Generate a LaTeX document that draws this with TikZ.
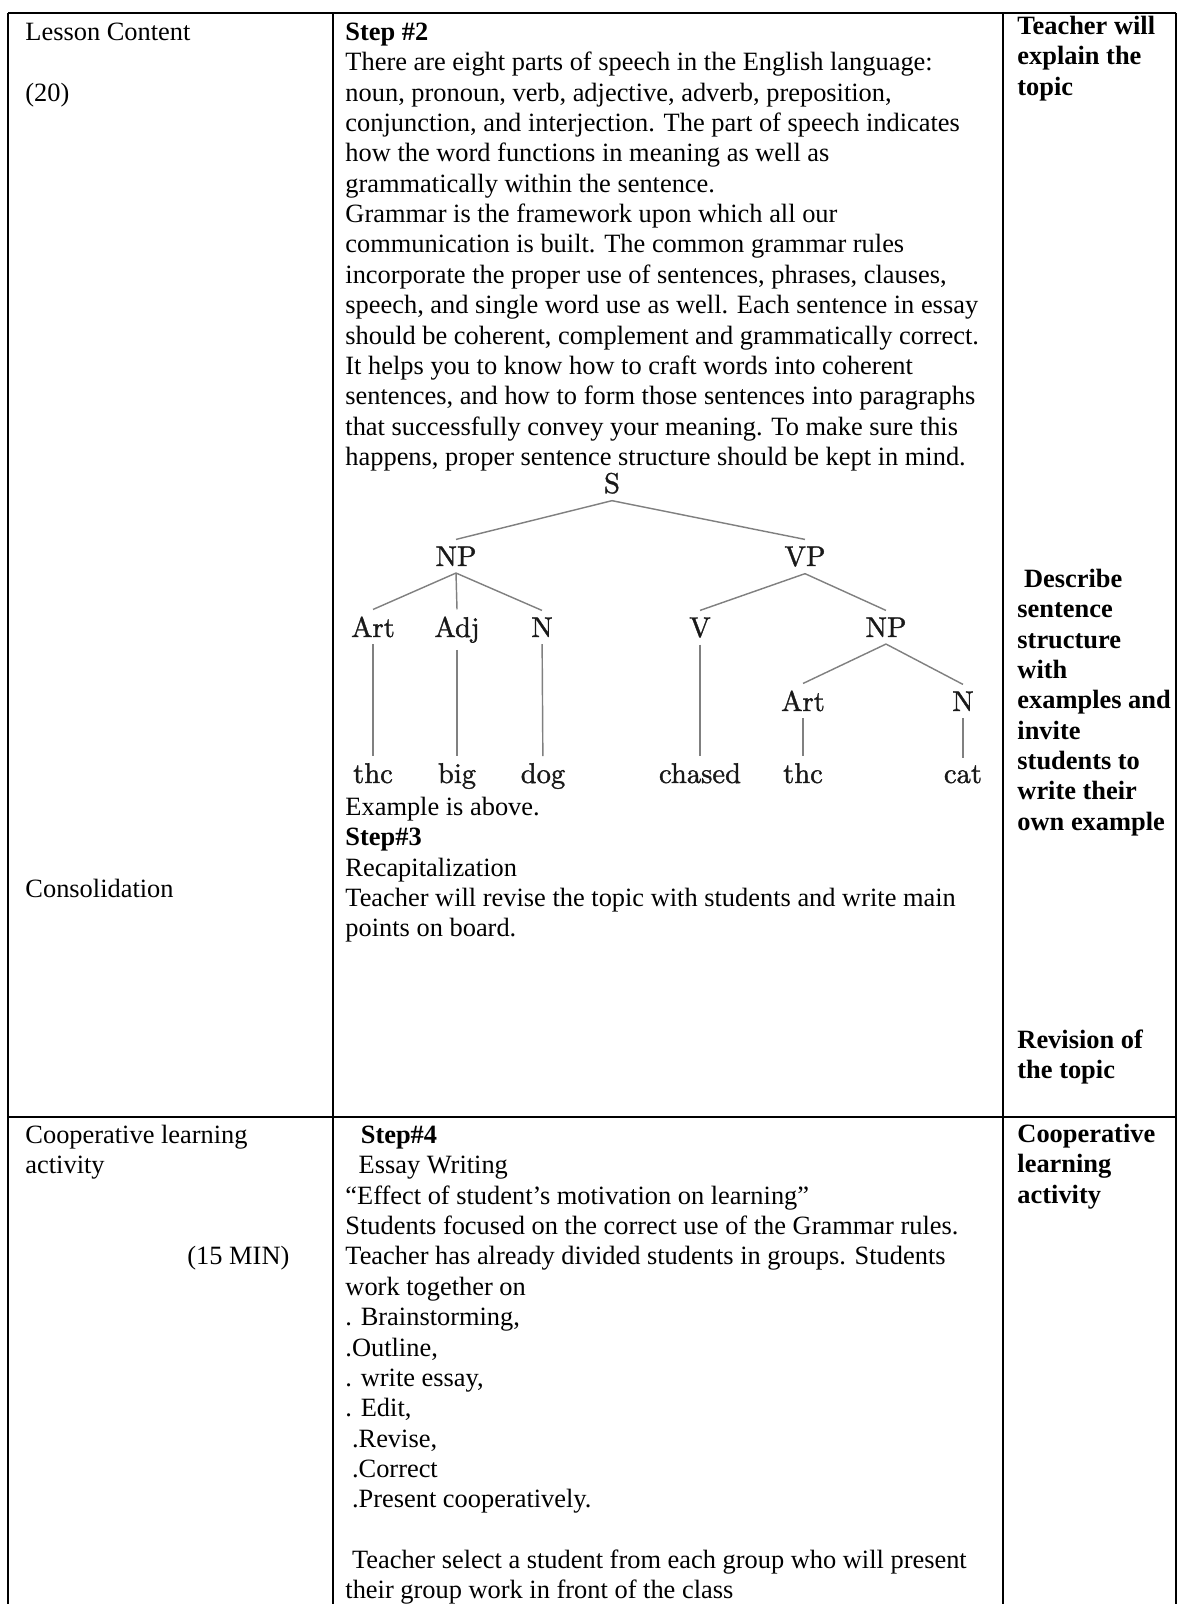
\documentclass[tikz,border=0pt]{standalone}
\usepackage{fontspec}
\newfontfamily\cellfont{Liberation Serif}
\newfontfamily\treefont{lmroman10-regular.otf}[FakeBold=1.2]
\begin{document}
\begin{tikzpicture}[x=0.4545pt,y=-0.4545pt,
  rule/.style={line width=0.8pt},
  cell/.style={anchor=north west,inner sep=0pt,align=left,yshift=9.66pt,
    font={\cellfont\fontsize{12}{13.8}\selectfont}},
  aside/.style={cell,font={\cellfont\bfseries\fontsize{12}{13.8}\selectfont}},
  word/.style={anchor=base,inner sep=3pt,text=black!90,font={\treefont\fontsize{13}{15}\selectfont}},
  branch/.style={draw=black!50,line width=0.65pt}]
\useasboundingbox (0,0) rectangle (1178,1604);
% table rules
\draw[rule] (8,13) -- (1176,13);
\draw[rule] (8,1117) -- (1176,1117);
\draw[rule] (8,13) -- (8,1604);
\draw[rule] (333,13) -- (333,1604);
\draw[rule] (1003,13) -- (1003,1604);
\draw[rule] (1176,13) -- (1176,1604);
% first column
\node[cell] (lesson) at (25,40) {\strut Lesson Content\\[13.8pt](20)};
\node[cell] (consol) at (25,897) {\strut Consolidation};
\node[cell] (coop) at (25,1143) {\strut Cooperative learning\\activity};
\node[cell] (mins) at (187,1264) {\strut (15 MIN)};
% second column
\node[cell] (step2) at (345,40) {\strut\textbf{Step \#2}\\
There are eight parts of speech in the English language:\\
noun, pronoun, verb, adjective, adverb, preposition,\\
conjunction, and interjection. The part of speech indicates\\
how the word functions in meaning as well as\\
grammatically within the sentence.\\
Grammar is the framework upon which all our\\
communication is built. The common grammar rules\\
incorporate the proper use of sentences, phrases, clauses,\\
speech, and single word use as well. Each sentence in essay\\
should be coherent, complement and grammatically correct.\\
It helps you to know how to craft words into coherent\\
sentences, and how to form those sentences into paragraphs\\
that successfully convey your meaning. To make sure this\\
happens, proper sentence structure should be kept in mind.};
% sentence tree
\node[word] (S) at (612,493) {S};
\node[word] (NPa) at (456,566) {NP};
\node[word] (VP) at (805,566) {VP};
\node[word] (Arta) at (373,637) {Art};
\node[word] (Adj) at (457,637) {Adj};
\node[word] (Na) at (542,637) {N};
\node[word] (V) at (700,637) {V};
\node[word] (NPb) at (886,637) {NP};
\node[word] (Artb) at (803,711) {Art};
\node[word] (Nb) at (963,711) {N};
\node[word] (thea) at (373,783) {thc};
\node[word] (big) at (457,783) {big};
\node[word] (dog) at (543,783) {dog};
\node[word] (chased) at (700,783) {chased};
\node[word] (theb) at (803,783) {thc};
\node[word] (cat) at (963,783) {cat};
\draw[branch] (S.south) -- (NPa.north);
\draw[branch] (S.south) -- (VP.north);
\draw[branch] (NPa.south) -- (Arta.north);
\draw[branch] (NPa.south) -- (Adj.north);
\draw[branch] (NPa.south) -- (Na.north);
\draw[branch] (VP.south) -- (V.north);
\draw[branch] (VP.south) -- (NPb.north);
\draw[branch] (NPb.south) -- (Artb.north);
\draw[branch] (NPb.south) -- (Nb.north);
\draw[branch] (Arta) -- (thea);
\draw[branch] (Adj) -- (big);
\draw[branch] (Na) -- (dog);
\draw[branch] (V) -- (chased);
\draw[branch] (Artb) -- (theb);
\draw[branch] (Nb) -- (cat);
\node[cell] (step3) at (345,815) {\strut Example is above.\\
\textbf{Step\#3}\\
Recapitalization\\
Teacher will revise the topic with students and write main\\
points on board.};
\node[cell] (step4) at (345,1143) {\strut\hspace*{7pt}\textbf{Step\#4}\\
\hspace*{6pt}Essay Writing\\
“Effect of student’s motivation on learning”\\
Students focused on the correct use of the Grammar rules.\\
Teacher has already divided students in groups. Students\\
work together on\\
. Brainstorming,\\
.Outline,\\
. write essay,\\
. Edit,\\
\hspace*{3pt}.Revise,\\
\hspace*{3pt}.Correct\\
\hspace*{3pt}.Present cooperatively.\\[13.8pt]
\hspace*{3pt}Teacher select a student from each group who will present\\
their group work in front of the class};
% third column
\node[aside] (explain) at (1017,34) {\strut Teacher will\\explain the\\topic};
\node[aside] (describe) at (1017,587) {\strut\hspace*{3pt}Describe\\sentence\\structure\\with\\examples and\\invite\\students to\\write their\\own example};
\node[aside] (revision) at (1017,1048) {\strut Revision of\\the topic};
\node[aside] (coopact) at (1017,1142) {\strut Cooperative\\learning\\activity};
\end{tikzpicture}
\end{document}
